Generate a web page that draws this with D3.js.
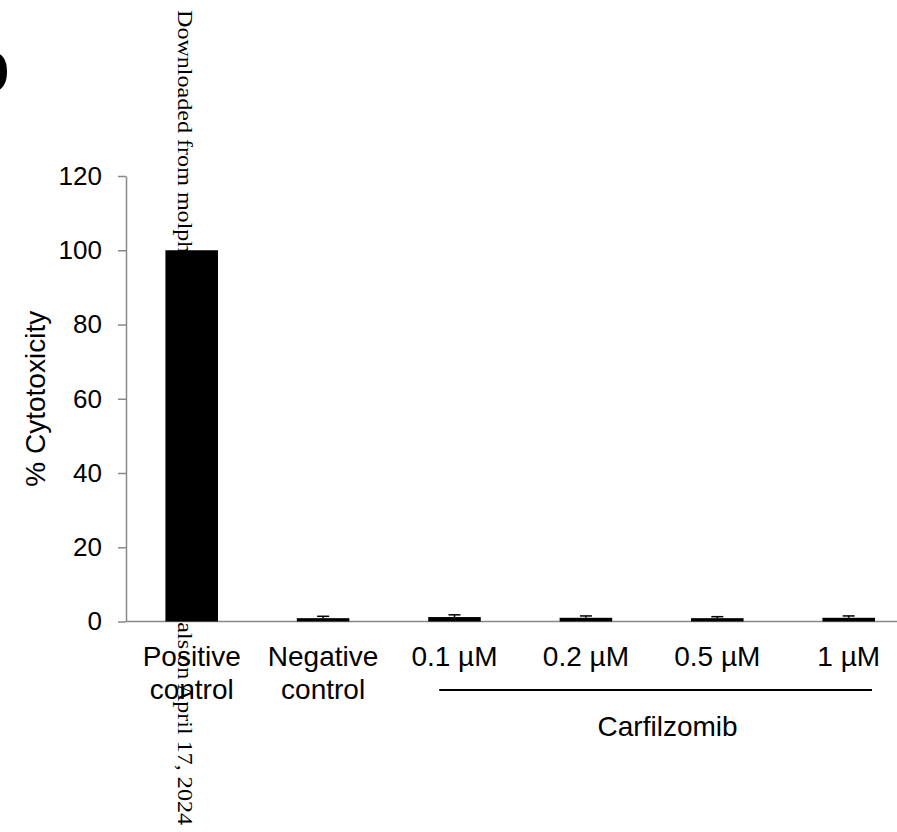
<!doctype html>
<html lang="en">
<head>
  <meta charset="UTF-8">
  <title>% Cytotoxicity</title>
  <style>
    body { margin: 0; background: #fff; }
    svg { display: block; font-family: Arial, "Liberation Sans", sans-serif; }
    .axis path, .axis line { stroke: #898989; stroke-width: 1.5; }
    .axis text { fill: #000; }
  </style>
</head>
<body>
<div class="chart"></div>
<script src="https://d3js.org/d3.v7.min.js"></script>
<script>
  const categories = ['Positive control', 'Negative control', '0.1 µM', '0.2 µM', '0.5 µM', '1 µM']
  const labelLines = [['Positive', 'control'], ['Negative', 'control'], ['0.1 µM'], ['0.2 µM'], ['0.5 µM'], ['1 µM']]
  const values = [100, 0.9, 1.2, 1.0, 0.9, 1.0]
  const errors = [0, 0.5, 0.6, 0.5, 0.4, 0.5]
  const yTicks = [0, 20, 40, 60, 80, 100, 120]
  const groupCategories = ['0.1 µM', '0.2 µM', '0.5 µM', '1 µM']
  const groupLabel = 'Carfilzomib'
  const watermark = 'Downloaded from molpharm.aspetjournals.org at ASPET Journals on April 17, 2024'

  const width = 897
  const height = 832

  const svg = d3.select('.chart')
    .append('svg')
    .attr('width', width)
    .attr('height', height)

  const x = d3.scaleBand()
    .domain(categories)
    .range([126, 914.4])
    .paddingInner(0.6)
    .paddingOuter(0.3)

  const y = d3.scaleLinear()
    .domain([0, 120])
    .range([621.5, 176])

  // panel letter, mostly cut off at the left edge
  svg.append('text')
    .attr('x', -34)
    .attr('y', 91)
    .attr('font-size', 72)
    .attr('font-weight', 'bold')
    .text('b')

  // journal watermark (sits under the bars)
  svg.append('text')
    .attr('transform', 'translate(178, 10) rotate(90)')
    .attr('font-family', '"Liberation Serif", "Times New Roman", serif')
    .attr('font-size', 21.5)
    .attr('textLength', 815)
    .attr('lengthAdjust', 'spacingAndGlyphs')
    .text(watermark)

  // y axis
  const yAxis = d3.axisLeft(y)
    .tickValues(yTicks)
    .tickSize(8)
    .tickPadding(16)
    .tickSizeOuter(0)

  svg.append('g')
    .attr('class', 'axis')
    .attr('transform', 'translate(126, 0)')
    .call(yAxis)
    .call(g => g.selectAll('text').attr('font-size', 26).attr('font-family', null))

  svg.append('text')
    .attr('transform', `translate(45, ${(y(0) + y(120)) / 2}) rotate(-90)`)
    .attr('text-anchor', 'middle')
    .attr('font-size', 28)
    .text('% Cytotoxicity')

  // x axis line
  svg.append('line')
    .attr('x1', x.range()[0])
    .attr('x2', x.range()[1])
    .attr('y1', y(0))
    .attr('y2', y(0))
    .attr('stroke', '#898989')
    .attr('stroke-width', 1.5)

  // bars
  svg.append('g')
    .selectAll('rect')
    .data(categories)
    .enter()
    .append('rect')
    .attr('x', d => x(d))
    .attr('y', (d, i) => y(values[i]))
    .attr('width', x.bandwidth())
    .attr('height', (d, i) => y(0) - y(values[i]))
    .attr('fill', '#000')

  // error bars
  const err = svg.append('g')
    .attr('stroke', '#000')
    .attr('stroke-width', 1.5)
    .selectAll('g')
    .data(categories.filter((d, i) => errors[i] > 0))
    .enter()
    .append('g')

  err.append('line')
    .attr('x1', d => x(d) + x.bandwidth() / 2)
    .attr('x2', d => x(d) + x.bandwidth() / 2)
    .attr('y1', d => y(values[categories.indexOf(d)]))
    .attr('y2', d => {
      const i = categories.indexOf(d)
      return y(values[i] + errors[i])
    })

  err.append('line')
    .attr('x1', d => x(d) + x.bandwidth() / 2 - 6)
    .attr('x2', d => x(d) + x.bandwidth() / 2 + 6)
    .attr('y1', d => {
      const i = categories.indexOf(d)
      return y(values[i] + errors[i])
    })
    .attr('y2', d => {
      const i = categories.indexOf(d)
      return y(values[i] + errors[i])
    })

  // category labels
  const labels = svg.append('g')
    .selectAll('text')
    .data(categories)
    .enter()
    .append('text')
    .attr('text-anchor', 'middle')
    .attr('font-size', 28)
    .attr('x', d => x(d) + x.bandwidth() / 2)
    .attr('y', y(0) + 44.5)

  labels.selectAll('tspan')
    .data((d, i) => labelLines[i])
    .enter()
    .append('tspan')
    .attr('x', function () { return this.parentNode.getAttribute('x') })
    .attr('dy', (d, i) => i === 0 ? 0 : 33)
    .text(d => d)

  // Carfilzomib group bracket
  const first = groupCategories[0]
  const last = groupCategories[groupCategories.length - 1]
  const gx1 = x(first) + 11
  const gx2 = x(last) + x.bandwidth() - 3

  svg.append('line')
    .attr('x1', gx1)
    .attr('x2', gx2)
    .attr('y1', 690)
    .attr('y2', 690)
    .attr('stroke', '#000')
    .attr('stroke-width', 2)

  svg.append('text')
    .attr('x', (gx1 + gx2) / 2 + 12)
    .attr('y', 736)
    .attr('text-anchor', 'middle')
    .attr('font-size', 28)
    .text(groupLabel)
</script>
</body>
</html>
